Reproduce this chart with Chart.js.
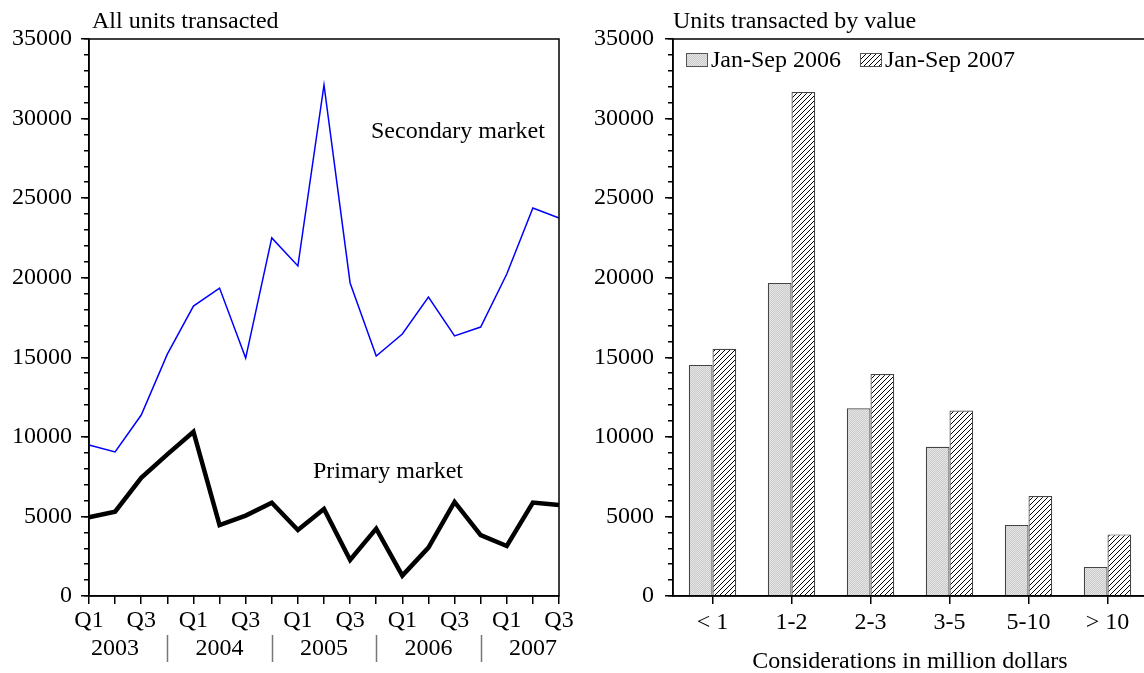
<!DOCTYPE html>
<html>
<head>
<meta charset="utf-8">
<script src="https://cdn.jsdelivr.net/npm/chart.js@4"></script>
<style>
  html, body { margin: 0; padding: 0; background: #fff; overflow: hidden; }
  #wrap { position: relative; width: 1144px; height: 673px; }
  .box { position: absolute; top: 0; height: 673px; }
  .txt { position: absolute; font: 24px "Liberation Serif", serif; color: #000; white-space: nowrap; line-height: 1; }
</style>
</head>
<body>
<div id="wrap">
  <div class="box" style="left:0;width:585px;"><canvas id="lineChart"></canvas></div>
  <div class="box" style="left:575px;width:580px;"><canvas id="barChart"></canvas></div>
  <div class="txt" style="left:92px;top:8px;">All units transacted</div>
  <div class="txt" style="left:673px;top:8px;">Units transacted by value</div>
  <div class="txt" style="left:371px;top:118px;">Secondary market</div>
  <div class="txt" style="left:313px;top:458px;">Primary market</div>
</div>
<script>
const periods = [
  "2003 Q1", "2003 Q2", "2003 Q3", "2003 Q4",
  "2004 Q1", "2004 Q2", "2004 Q3", "2004 Q4",
  "2005 Q1", "2005 Q2", "2005 Q3", "2005 Q4",
  "2006 Q1", "2006 Q2", "2006 Q3", "2006 Q4",
  "2007 Q1", "2007 Q2", "2007 Q3"
];
const secondaryMarket = [9490, 9050, 11370, 15200, 18220, 19350, 14950, 22500, 20740, 32110,
  19670, 15080, 16460, 18790, 16340, 16900, 20230, 24380, 23750];
const primaryMarket = [4950, 5300, 7430, 8900, 10320, 4460, 5050, 5860, 4150, 5470,
  2260, 4230, 1280, 3040, 5910, 3830, 3140, 5870, 5720];

const valueBands = ["< 1", "1-2", "2-3", "3-5", "5-10", "> 10"];
const units2006 = [14520, 19670, 11790, 9380, 4460, 1820];
const units2007 = [15540, 31670, 13950, 11650, 6280, 3870];

const FONT = { family: "'Liberation Serif', serif", size: 24 };
Chart.defaults.font = FONT;
Chart.defaults.color = "#000";

// fill patterns
function makePattern(draw, size) {
  const c = document.createElement("canvas");
  c.width = size; c.height = size;
  const g = c.getContext("2d");
  g.fillStyle = "#fff";
  g.fillRect(0, 0, size, size);
  draw(g, size);
  return g.createPattern(c, "repeat");
}
const stipple = makePattern((g) => {
  g.fillStyle = "#e4e4e4"; g.fillRect(0, 0, 2, 2);
  g.fillStyle = "#cccccc"; g.fillRect(0, 0, 1, 1); g.fillRect(1, 1, 1, 1);
}, 2);
const hatch = makePattern((g, s) => {
  g.strokeStyle = "#000"; g.lineWidth = 1;
  g.beginPath();
  g.moveTo(0, s); g.lineTo(s, 0);
  g.moveTo(-s / 2, s / 2); g.lineTo(s / 2, -s / 2);
  g.moveTo(s / 2, s * 1.5); g.lineTo(s * 1.5, s / 2);
  g.stroke();
}, 5);

const frame = {
  id: "frame",
  afterDatasetsDraw(chart) {
    const a = chart.chartArea, ctx = chart.ctx;
    ctx.save();
    ctx.strokeStyle = "#000";
    ctx.lineWidth = 1.5;
    ctx.strokeRect(a.left, a.top, a.right - a.left, a.bottom - a.top);
    ctx.restore();
  }
};

const yearDividers = {
  id: "yearDividers",
  afterDraw(chart) {
    const x = chart.scales.x, ctx = chart.ctx;
    ctx.save();
    ctx.strokeStyle = "#777";
    ctx.lineWidth = 1.5;
    periods.forEach((p, i) => {
      if (i % 4 !== 3) return;
      const px = Math.round(x.getPixelForValue(i)) + 0.5;
      ctx.beginPath();
      ctx.moveTo(px, x.bottom - 38);
      ctx.lineTo(px, x.bottom - 11);
      ctx.stroke();
    });
    ctx.restore();
  }
};

// legend inside the plot, in one row
const innerLegend = {
  id: "innerLegend",
  afterDatasetsDraw(chart) {
    const a = chart.chartArea, ctx = chart.ctx;
    ctx.save();
    ctx.font = "24px 'Liberation Serif', serif";
    ctx.fillStyle = "#000";
    ctx.textBaseline = "alphabetic";
    let x = a.left + 13;
    chart.data.datasets.forEach(ds => {
      ctx.fillStyle = ds.backgroundColor;
      ctx.fillRect(x, a.top + 14, 21, 13);
      ctx.strokeStyle = "#555";
      ctx.lineWidth = 1;
      ctx.strokeRect(x + 0.5, a.top + 14.5, 21, 13);
      ctx.fillStyle = "#000";
      ctx.fillText(ds.label, x + 25, a.top + 28);
      x += 25 + ctx.measureText(ds.label).width + 19;
    });
    ctx.restore();
  }
};

function yAxes(width, labelPad) {
  return {
    y: {
      min: 0, max: 35000, weight: 1,
      afterFit: s => { s.width = width; },
      ticks: { stepSize: 5000, padding: labelPad, font: FONT, color: "#000", callback: v => String(v) },
      grid: { drawOnChartArea: false, tickLength: 8, color: "#000", lineWidth: 1.5 },
      border: { color: "#000", width: 1.5 }
    },
    yMinor: {
      min: 0, max: 35000, weight: 0, position: "left",
      afterFit: s => { s.width = 0; },
      ticks: { stepSize: 1000, display: false },
      grid: { drawOnChartArea: false, tickLength: 5, color: "#000", lineWidth: 1.5 },
      border: { display: false }
    }
  };
}

new Chart(document.getElementById("lineChart"), {
  type: "line",
  data: {
    labels: periods,
    datasets: [
      { label: "Secondary market", data: secondaryMarket, borderColor: "#0000ff", borderWidth: 1.5, pointRadius: 0, tension: 0 },
      { label: "Primary market", data: primaryMarket, borderColor: "#000", borderWidth: 4.5, pointRadius: 0, tension: 0, borderJoinStyle: "miter" }
    ]
  },
  options: {
    responsive: true,
    maintainAspectRatio: false,
    animation: false,
    layout: { padding: { left: 0, top: 39, right: 26, bottom: 0 } },
    plugins: { legend: { display: false }, tooltip: { enabled: false } },
    scales: {
      x: {
        offset: false,
        afterFit: s => { s.height = 77; },
        ticks: {
          autoSkip: false, maxRotation: 0, padding: 3, font: { ...FONT, lineHeight: 1.17 },
          callback: (v, i) => {
            const [yr, q] = periods[i].split(" ");
            const qi = i % 4;
            return [(qi === 0 || qi === 2) ? q : "", qi === 1 ? yr : ""];
          }
        },
        grid: { drawOnChartArea: false, tickLength: 8, color: "#000", lineWidth: 1.5 },
        border: { color: "#000", width: 1.5 }
      },
      ...yAxes(89, 9)
    }
  },
  plugins: [frame, yearDividers]
});

new Chart(document.getElementById("barChart"), {
  type: "bar",
  data: {
    labels: valueBands,
    datasets: [
      { label: "Jan-Sep 2006", data: units2006, backgroundColor: stipple, borderColor: "#444", borderWidth: 1.2,
        categoryPercentage: 0.6, barPercentage: 1.0 },
      { label: "Jan-Sep 2007", data: units2007, backgroundColor: hatch, borderColor: "#444", borderWidth: 1.2,
        categoryPercentage: 0.6, barPercentage: 1.0 }
    ]
  },
  options: {
    responsive: true,
    maintainAspectRatio: false,
    animation: false,
    layout: { padding: { left: 0, top: 39, right: 8, bottom: 0 } },
    plugins: { tooltip: { enabled: false }, legend: { display: false } },
    scales: {
      x: {
        afterFit: s => { s.height = 77; },
        ticks: { padding: 4, font: FONT, color: "#000" },
        grid: { offset: false, drawOnChartArea: false, tickLength: 8, color: "#000", lineWidth: 1.5 },
        border: { color: "#000", width: 1.5 },
        title: { display: true, text: "Considerations in million dollars", font: FONT, color: "#000", padding: { top: 4, bottom: -3 } }
      },
      ...yAxes(98, 11)
    }
  },
  plugins: [frame, innerLegend]
});
</script>
</body>
</html>
